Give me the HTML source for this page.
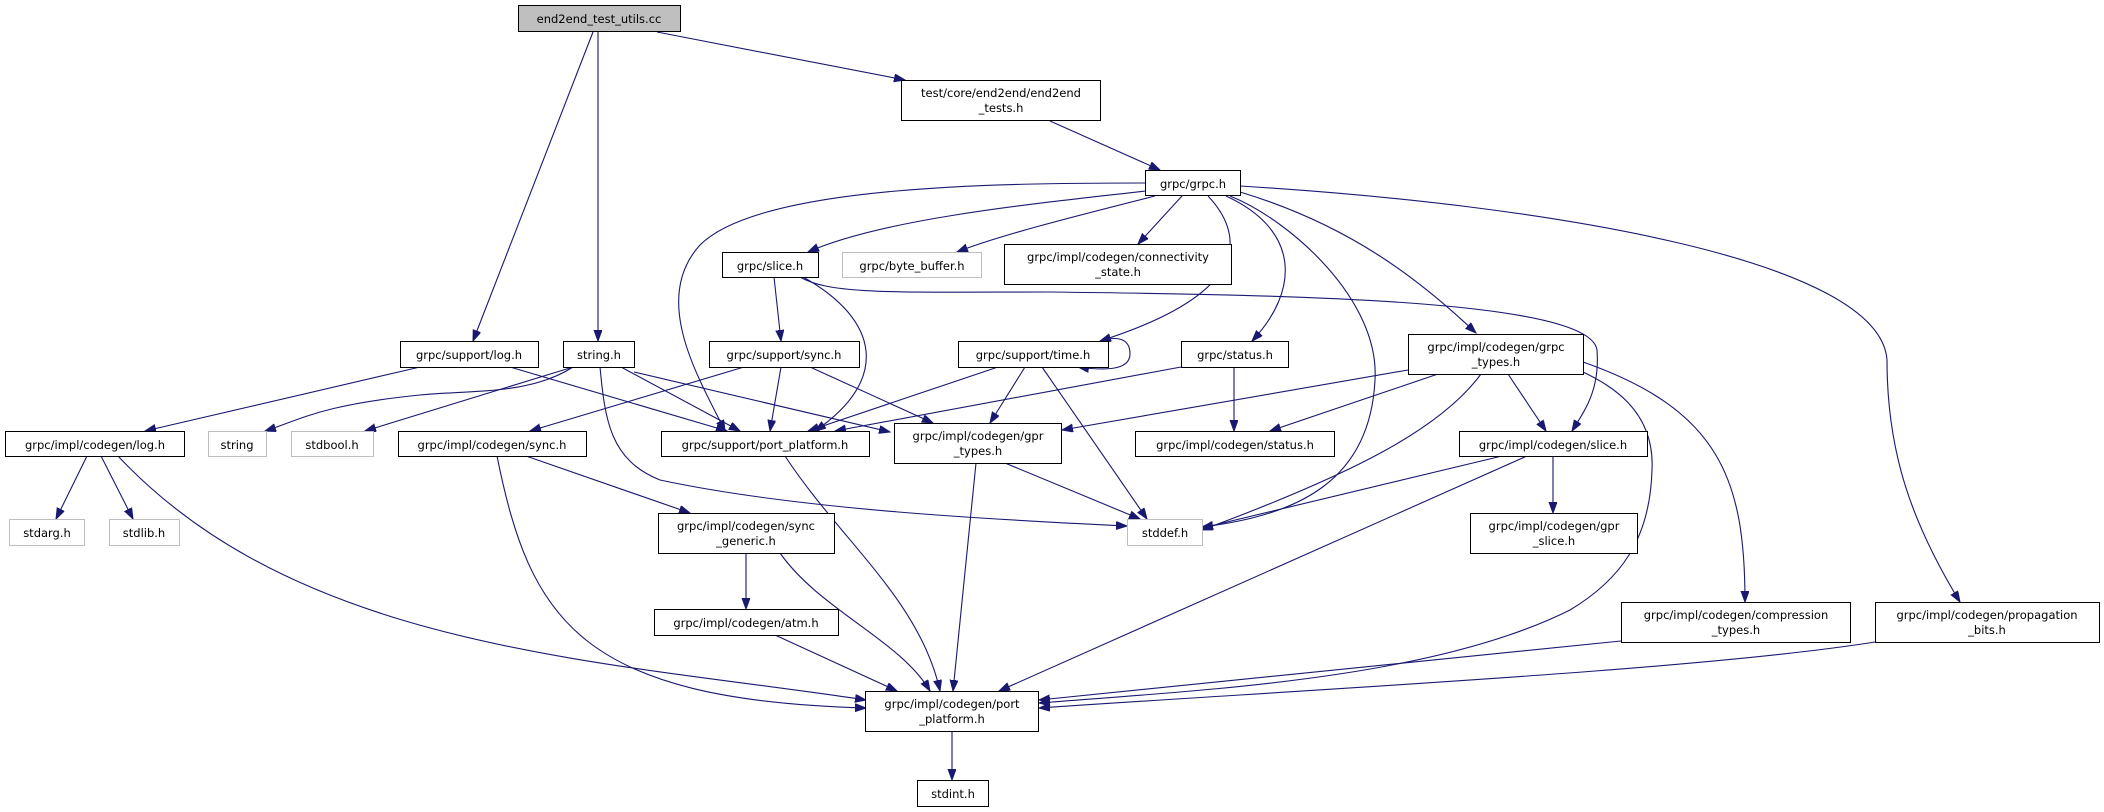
<!DOCTYPE html>
<html><head><meta charset="utf-8"><style>
html,body{margin:0;padding:0;background:#fff;}
svg{display:block;}
text{font-family:"DejaVu Sans","Liberation Sans",sans-serif;font-size:11.5px;fill:#000;text-anchor:middle;}
.n{fill:#fff;stroke:#000;stroke-width:1;}
.g{fill:#fff;stroke:#bfbfbf;stroke-width:1;}
path{fill:none;stroke:#191970;stroke-width:1.1;}
</style></head><body>
<svg width="2104" height="812" viewBox="0 0 2104 812" xmlns="http://www.w3.org/2000/svg">
<defs>
<marker id="a" markerUnits="userSpaceOnUse" markerWidth="12" markerHeight="10" refX="11" refY="4" orient="auto">
<path d="M0,0 L11,4 L0,8 Z" style="fill:#191970;stroke:#191970;stroke-width:1"/>
</marker>
</defs>
<g marker-end="url(#a)">
<!-- top -->
<path d="M593,32 L473,341"/>
<path d="M598,32 L598,341"/>
<path d="M657,32 L905,80"/>
<path d="M1050,121 L1160,170"/>
<!-- grpc.h -->
<path d="M1146,183 C1000,183 760,185 700,245 C650,300 700,380 725,431"/>
<path d="M1146,191 C1020,205 880,220 808,252"/>
<path d="M1155,196 C1080,215 1000,235 957,252"/>
<path d="M1182,196 L1138,244"/>
<path d="M1208,196 C1240,230 1260,290 1100,341"/>
<path d="M1226,196 C1300,230 1300,290 1252,341"/>
<path d="M1230,196 C1290,220 1380,300 1375,380 C1370,480 1300,515 1202,527"/>
<path d="M1240,192 C1350,225 1420,280 1476,333"/>
<path d="M1240,186 C1550,205 1880,260 1887,360 C1887,450 1910,520 1960,602"/>
<!-- slice.h -->
<path d="M774,277 L781,341"/>
<path d="M803,277 C880,320 890,380 815,431"/>
<path d="M800,277 C830,295 900,292 1050,292 C1300,295 1590,300 1597,350 C1600,390 1585,410 1572,431"/>
<!-- support/log.h -->
<path d="M420,367 L145,431"/>
<path d="M510,367 L727,431"/>
<!-- string.h -->
<path d="M573,367 C530,395 470,390 420,395 C320,405 300,420 265,431"/>
<path d="M573,367 L365,431"/>
<path d="M600,367 C605,420 610,460 660,480 C800,510 1000,520 1127,526"/>
<path d="M621,367 L740,431"/>
<path d="M634,372 L890,432"/>
<!-- support/sync.h -->
<path d="M744,367 L530,431"/>
<path d="M781,367 L770,431"/>
<path d="M810,367 L933,423"/>
<!-- time.h -->
<path d="M1100,341 C1120,335 1130,340 1130,354 C1130,372 1100,370 1078,367"/>
<path d="M998,367 L808,431"/>
<path d="M1025,367 L990,423"/>
<path d="M1042,367 L1147,519"/>
<!-- status.h -->
<path d="M1181,367 L835,431"/>
<path d="M1234,367 L1234,431"/>
<!-- grpc_types.h -->
<path d="M1408,370 L1062,430"/>
<path d="M1438,374 L1270,431"/>
<path d="M1481,374 C1440,430 1350,475 1202,530"/>
<path d="M1508,374 L1546,431"/>
<path d="M1583,372 C1610,385 1655,410 1652,470 C1650,540 1620,580 1570,610 C1430,680 1200,690 1039,703"/>
<path d="M1583,362 C1720,410 1745,480 1745,602"/>
<!-- gpr_types -->
<path d="M1005,463 L1140,519"/>
<path d="M976,463 L953,691"/>
<!-- codegen/slice.h -->
<path d="M1502,456 L1202,528"/>
<path d="M1553,456 L1553,513"/>
<path d="M1527,456 L999,691"/>
<!-- codegen/log.h -->
<path d="M87,456 L56,519"/>
<path d="M101,456 L133,519"/>
<path d="M118,456 C300,650 600,660 866,700"/>
<!-- codegen/sync.h -->
<path d="M497,456 C530,620 580,700 866,708"/>
<path d="M526,456 L690,513"/>
<!-- sync_generic -->
<path d="M746,553 L746,609"/>
<path d="M780,553 C820,610 900,640 930,691"/>
<path d="M775,635 L897,691"/>
<path d="M785,456 C840,540 920,600 940,691"/>
<!-- bottom right -->
<path d="M1621,641 L1039,700"/>
<path d="M1875,642 C1700,670 1300,690 1039,708"/>
<path d="M952,731 L952,780"/>
</g>
<!-- nodes -->
<rect x="518.5" y="5.5" width="162" height="26" style="fill:#bfbfbf;stroke:#000"/>
<text x="599" y="23">end2end_test_utils.cc</text>
<rect class="n" x="901.5" y="80.5" width="199" height="40"/>
<text x="1001" y="97">test/core/end2end/end2end</text><text x="1001" y="112">_tests.h</text>
<rect class="n" x="1145.5" y="170.5" width="95" height="25"/>
<text x="1193" y="188">grpc/grpc.h</text>
<rect class="n" x="722.5" y="252.5" width="96" height="25"/>
<text x="770" y="270">grpc/slice.h</text>
<rect class="g" x="842.5" y="252.5" width="139" height="25"/>
<text x="912" y="270">grpc/byte_buffer.h</text>
<rect class="n" x="1004.5" y="244.5" width="227" height="40"/>
<text x="1118" y="261">grpc/impl/codegen/connectivity</text><text x="1118" y="276">_state.h</text>
<rect class="n" x="400.5" y="341.5" width="138" height="26"/>
<text x="469" y="359">grpc/support/log.h</text>
<rect class="n" x="563.5" y="341.5" width="71" height="26"/>
<text x="599" y="359">string.h</text>
<rect class="n" x="709.5" y="341.5" width="150" height="26"/>
<text x="784" y="359">grpc/support/sync.h</text>
<rect class="n" x="958.5" y="341.5" width="150" height="26"/>
<text x="1033" y="359">grpc/support/time.h</text>
<rect class="n" x="1181.5" y="341.5" width="107" height="26"/>
<text x="1235" y="359">grpc/status.h</text>
<rect class="n" x="1408.5" y="334.5" width="175" height="40"/>
<text x="1496" y="351">grpc/impl/codegen/grpc</text><text x="1496" y="366">_types.h</text>
<rect class="n" x="5.5" y="431.5" width="179" height="25"/>
<text x="95" y="449">grpc/impl/codegen/log.h</text>
<rect class="g" x="208.5" y="431.5" width="58" height="25"/>
<text x="237" y="449">string</text>
<rect class="g" x="291.5" y="431.5" width="82" height="25"/>
<text x="332" y="449">stdbool.h</text>
<rect class="n" x="398.5" y="431.5" width="188" height="25"/>
<text x="492" y="449">grpc/impl/codegen/sync.h</text>
<rect class="n" x="661.5" y="431.5" width="208" height="25"/>
<text x="765" y="449">grpc/support/port_platform.h</text>
<rect class="n" x="894.5" y="423.5" width="167" height="40"/>
<text x="978" y="440">grpc/impl/codegen/gpr</text><text x="978" y="455">_types.h</text>
<rect class="n" x="1135.5" y="431.5" width="199" height="25"/>
<text x="1235" y="449">grpc/impl/codegen/status.h</text>
<rect class="n" x="1459.5" y="431.5" width="188" height="25"/>
<text x="1553" y="449">grpc/impl/codegen/slice.h</text>
<rect class="g" x="9.5" y="519.5" width="75" height="26"/>
<text x="47" y="537">stdarg.h</text>
<rect class="g" x="109.5" y="519.5" width="70" height="26"/>
<text x="144" y="537">stdlib.h</text>
<rect class="g" x="1127.5" y="519.5" width="75" height="26"/>
<text x="1165" y="537">stddef.h</text>
<rect class="n" x="658.5" y="513.5" width="176" height="40"/>
<text x="746" y="530">grpc/impl/codegen/sync</text><text x="746" y="545">_generic.h</text>
<rect class="n" x="1470.5" y="513.5" width="167" height="40"/>
<text x="1554" y="530">grpc/impl/codegen/gpr</text><text x="1554" y="545">_slice.h</text>
<rect class="n" x="654.5" y="609.5" width="184" height="26"/>
<text x="746" y="627">grpc/impl/codegen/atm.h</text>
<rect class="n" x="1621.5" y="602.5" width="229" height="40"/>
<text x="1736" y="619">grpc/impl/codegen/compression</text><text x="1736" y="634">_types.h</text>
<rect class="n" x="1875.5" y="602.5" width="224" height="40"/>
<text x="1987" y="619">grpc/impl/codegen/propagation</text><text x="1987" y="634">_bits.h</text>
<rect class="n" x="865.5" y="691.5" width="173" height="40"/>
<text x="952" y="708">grpc/impl/codegen/port</text><text x="952" y="723">_platform.h</text>
<rect class="n" x="917.5" y="780.5" width="71" height="26"/>
<text x="953" y="798">stdint.h</text>
</svg>
</body></html>
